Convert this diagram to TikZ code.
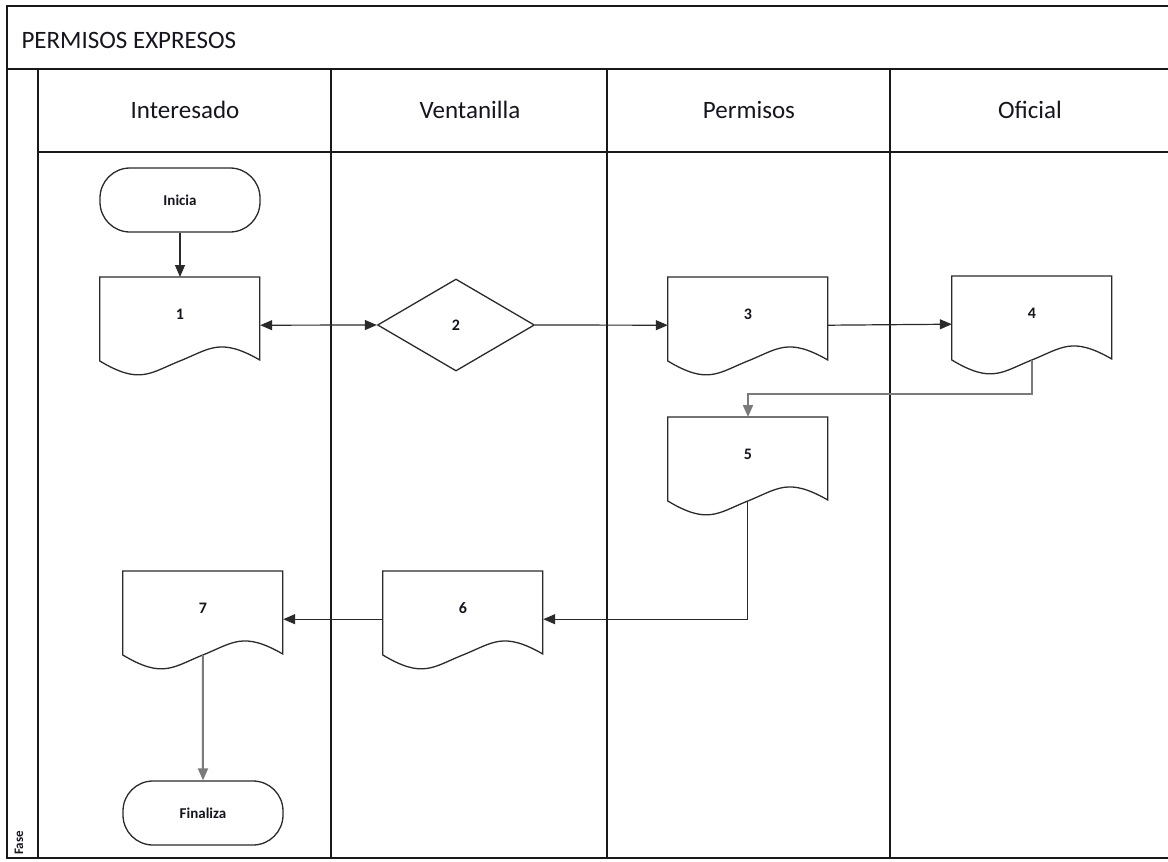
\documentclass[tikz,border=0pt]{standalone}
\usepackage{fontspec}
\setmainfont{Carlito}
\usetikzlibrary{shapes.geometric,arrows.meta}
\definecolor{ink}{HTML}{15151F}
\definecolor{edge}{HTML}{2A2A2A}
\definecolor{soft}{HTML}{7A7A7A}

% document symbol: flat top, wavy bottom; #1 name, #2 top-centre, #3 label
\newcommand\docshape[3]{%
  \node[docframe] (#1) at (#2) {};
  \begin{scope}[shift={(#1.north west)}]
    \draw[docline] (0,0) -- (160,0) -- (160,83)
      .. controls (120,60) and (110,72) .. (80,84)
      .. controls (50,96) and (40,108) .. (0,84) -- cycle;
    \coordinate (#1-w) at (80,84);
  \end{scope}
  \node[numtxt] (#1t) at ([yshift=-37pt]#1.north) {#3};
}

\begin{document}
\begin{tikzpicture}[x=1pt,y=-1pt,
  lane/.style={line width=1.6pt,draw=black!90},
  docframe/.style={minimum width=160pt,minimum height=96pt,inner sep=0pt,anchor=north},
  docline/.style={line width=1.3pt,draw=edge,fill=white},
  numtxt/.style={font=\bfseries\fontsize{16}{16}\selectfont,text=ink},
  term/.style={draw=edge,fill=white,line width=1.3pt,rounded corners=30pt,
    minimum width=160pt,minimum height=64pt,inner sep=0pt,
    font=\bfseries\fontsize{15}{15}\selectfont,text=ink},
  decision/.style={diamond,draw=edge,fill=white,line width=1.3pt,
    minimum width=157pt,minimum height=92pt,inner sep=0pt,
    font=\bfseries\fontsize{16}{16}\selectfont,text=ink},
  lanehead/.style={font=\fontsize{25}{25}\selectfont,text=ink},
  tip/.tip={Triangle[length=12pt,width=10pt]},
  flow/.style={draw=edge,line width=1.2pt,-tip},
  flowsoft/.style={draw=soft,line width=2pt,-tip}
]
\useasboundingbox (0,0) rectangle (1168,862);

% outer frame, title band and swimlanes
\draw[lane] (1168,6) -- (7,6) -- (7,858) -- (1168,858);
\draw[lane] (7,69) -- (1168,69);
\draw[lane] (38,69) -- (38,858);
\draw[lane] (38,152) -- (1168,152);
\draw[lane] (331,69) -- (331,858);
\draw[lane] (607,69) -- (607,858);
\draw[lane] (890,69) -- (890,858);

\node[lanehead,anchor=west] (title) at (18,40) {PERMISOS EXPRESOS};
\node[lanehead] (h1) at (185,110) {Interesado};
\node[lanehead] (h2) at (470,110) {Ventanilla};
\node[lanehead] (h3) at (749,110) {Permisos};
\node[lanehead] (h4) at (1030,110) {Oficial};
\node[rotate=90,font=\bfseries\fontsize{13}{13}\selectfont,text=ink] (fase) at (19,843) {Fase};

% process symbols
\node[term] (ini) at (180,200) {Inicia};
\docshape{d1}{180,277}{1}
\node[decision] (dia) at (456,325) {2};
\docshape{d3}{748,277}{3}
\docshape{d4}{1032,276}{4}
\docshape{d5}{748,417}{5}
\docshape{d6}{463,571}{6}
\docshape{d7}{203,571}{7}
\node[term] (fin) at (203,813) {Finaliza};

% connectors
\draw[flow] (ini) -- (d1);
\draw[flow,tip-tip] (d1.east) -- (dia.west);
\draw[flow] (dia.east) -- (d3.west);
\draw[flow] (d3.east) -- (d4.west);
\draw[flowsoft] (d4-w) -- ++(0,34) -| (d5.north);
\draw[flow] (d5-w) |- (d6.east);
\draw[flow] (d6.west) -- (d7.east);
\draw[flowsoft] (d7-w) -- (fin.north);
\end{tikzpicture}
\end{document}
